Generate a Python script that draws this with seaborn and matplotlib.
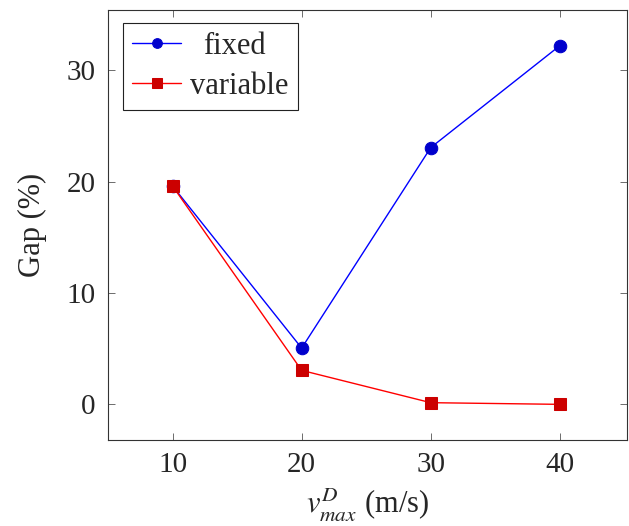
import matplotlib
matplotlib.use("Agg")
import matplotlib.pyplot as plt
import seaborn as sns
import pandas as pd

speeds = [10, 20, 30, 40]
fixed = [19.6, 5.05, 23.05, 32.2]
variable = [19.6, 3.05, 0.15, 0.0]
series_names = ["fixed", "variable"]

sns.set_style("ticks")
plt.rcParams['font.family'] = ['Liberation Serif', 'DejaVu Serif']
plt.rcParams['mathtext.fontset'] = 'stix'

df = pd.DataFrame({
    "speed": speeds * 2,
    "gap": fixed + variable,
    "series": [series_names[0]] * len(speeds) + [series_names[1]] * len(speeds),
})

fig = plt.figure(figsize=(6.29, 5.26), dpi=100)
ax = fig.add_axes([108/629, 86/526, 519/629, 430/526])

sns.lineplot(data=df, x="speed", y="gap", hue="series", style="series",
             palette={"fixed": "#0000ff", "variable": "#ff0000"},
             markers={"fixed": "o", "variable": "s"}, dashes=False,
             linewidth=1.0, markersize=9, ax=ax)

for line, mfc in zip(ax.lines[:2], ["#0000cc", "#cc0000"]):
    line.set_markerfacecolor(mfc)
    line.set_markeredgecolor(mfc)

ax.set_xlim(5, 45.2)
ax.set_ylim(-3.2, 35.4)
ax.set_xticks(speeds)
ax.set_yticks([0, 10, 20, 30])
ax.tick_params(direction="in", top=True, right=True, labelsize=21, length=5,
               width=0.6, color="#555555", pad=9)
for s in ax.spines.values():
    s.set_linewidth(0.8)
    s.set_color("#333333")

ax.set_xlabel(r"$v_{max}^{D}$ (m/s)", fontsize=22, labelpad=5)
ax.set_ylabel("Gap (%)", fontsize=22, labelpad=14)

handles, labels = ax.get_legend_handles_labels()
for h, mfc in zip(handles, ["#0000cc", "#cc0000"]):
    h.set_markerfacecolor(mfc)
    h.set_markeredgecolor(mfc)
    h.set_linewidth(1.0)
    h.set_markersize(7)
leg = ax.legend(handles, labels, loc="upper left", fontsize=22, frameon=True,
                fancybox=False, edgecolor="#222222", framealpha=1,
                borderpad=0.3, handlelength=1.6, handletextpad=0.3,
                labelspacing=0.35, borderaxespad=0,
                bbox_to_anchor=(15/519, 1 - 13/430))
leg.get_frame().set_linewidth(0.8)

# center legend texts within the text column, as in the reference
fig.canvas.draw()
texts = leg.get_texts()
widths = [t.get_window_extent().width for t in texts]
maxw = max(widths)
for t, w in zip(texts, widths):
    t.set_x(t.get_position()[0] + (maxw - w) / 2 * 72 / fig.dpi)

fig.savefig("out.png", dpi=100)
